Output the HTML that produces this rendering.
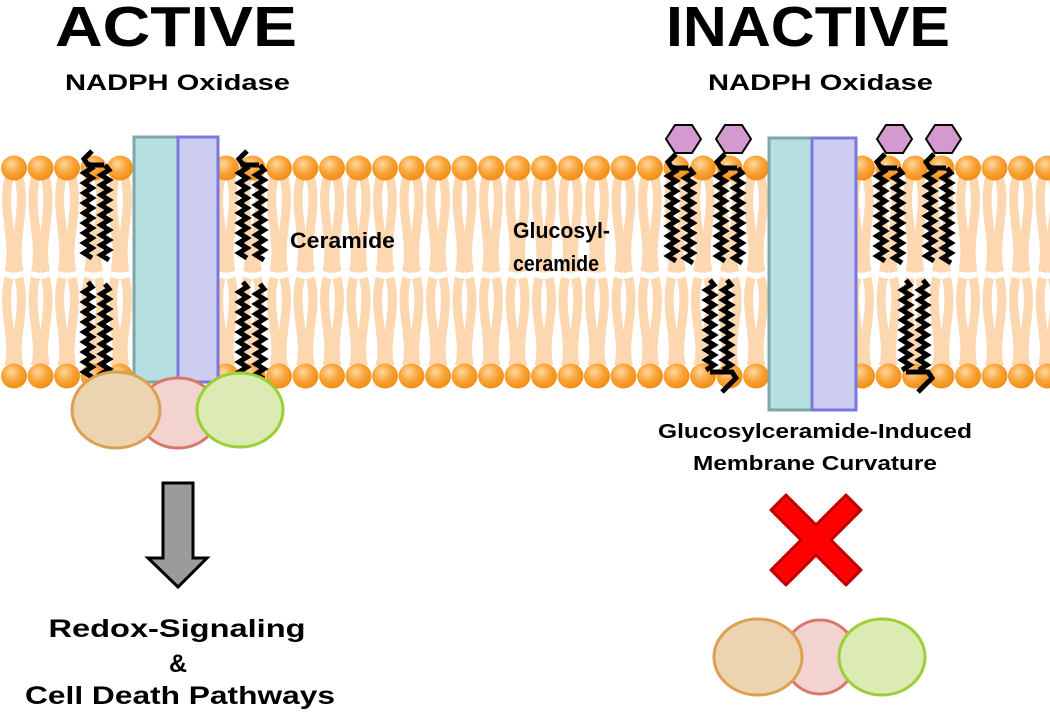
<!DOCTYPE html>
<html><head><meta charset="utf-8"><style>
html,body{margin:0;padding:0;background:#fff}
svg{display:block}
text{font-family:"Liberation Sans",Arial,sans-serif;font-weight:bold;fill:#000}
</style></head><body>
<svg id="s" width="1050" height="721" viewBox="0 0 1050 721" xmlns="http://www.w3.org/2000/svg">
<defs>
<radialGradient id="hg" cx="0.4" cy="0.35" r="0.7">
<stop offset="0" stop-color="#ffd9a0"/><stop offset="0.5" stop-color="#f9a43a"/><stop offset="1" stop-color="#f08a10"/>
</radialGradient>
</defs>
<g id="tails" fill="none" stroke="#fcd7b0" stroke-width="9"></g>
<g id="heads"></g>
<g id="lip" fill="none" stroke="#000" stroke-width="5" stroke-linejoin="miter"></g>

<rect x="134" y="137" width="44" height="245" fill="#b5dfe0" stroke="#7fa6a8" stroke-width="3"/>
<rect x="178" y="137" width="40" height="245" fill="#cdcdf2" stroke="#7a78dc" stroke-width="3"/>
<ellipse cx="178" cy="413" rx="40" ry="35" fill="#f3d3d0" stroke="#d9776c" stroke-width="3"/>
<ellipse cx="116" cy="410" rx="44" ry="38" fill="#edd4b0" stroke="#dba052" stroke-width="3"/>
<ellipse cx="240" cy="410" rx="43" ry="37" fill="#dceab3" stroke="#9ccf35" stroke-width="3"/>

<rect x="769" y="138" width="43" height="272" fill="#b5dfe0" stroke="#7fa6a8" stroke-width="3"/>
<rect x="812" y="138" width="44" height="272" fill="#cdcdf2" stroke="#7a78dc" stroke-width="3"/>

<g fill="#d49ad0" stroke="#000" stroke-width="2">
<polygon points="666,139 675,125 692,125 701,139 692,153 675,153"/>
<polygon points="716,139 725,125 742,125 751,139 742,153 725,153"/>
<polygon points="877,139 886,125 903,125 912,139 903,153 886,153"/>
<polygon points="926,139 935,125 952,125 961,139 952,153 935,153"/>
</g>

<text x="55" y="46" font-size="57" textLength="242" lengthAdjust="spacingAndGlyphs">ACTIVE</text>
<text x="65" y="90" font-size="22" textLength="225" lengthAdjust="spacingAndGlyphs">NADPH Oxidase</text>
<text x="666" y="46" font-size="57" textLength="284" lengthAdjust="spacingAndGlyphs">INACTIVE</text>
<text x="708" y="90" font-size="22" textLength="225" lengthAdjust="spacingAndGlyphs">NADPH Oxidase</text>
<text x="290" y="248" font-size="22" textLength="105" lengthAdjust="spacingAndGlyphs">Ceramide</text>
<text x="513" y="238" font-size="22" textLength="97" lengthAdjust="spacingAndGlyphs">Glucosyl-</text>
<text x="513" y="271" font-size="22" textLength="86" lengthAdjust="spacingAndGlyphs">ceramide</text>
<text x="815" y="438" font-size="20" text-anchor="middle" textLength="314" lengthAdjust="spacingAndGlyphs">Glucosylceramide-Induced</text>
<text x="815" y="470" font-size="20" text-anchor="middle" textLength="244" lengthAdjust="spacingAndGlyphs">Membrane Curvature</text>

<path d="M163,483 H193 V558 H207 L178,587 L148,558 H163 Z" fill="#9b9b9b" stroke="#000" stroke-width="3" stroke-linejoin="miter"/>
<text x="177" y="637" font-size="25" text-anchor="middle" textLength="257" lengthAdjust="spacingAndGlyphs">Redox-Signaling</text>
<text x="178" y="672" font-size="25" text-anchor="middle">&amp;</text>
<text x="180" y="704" font-size="25" text-anchor="middle" textLength="310" lengthAdjust="spacingAndGlyphs">Cell Death Pathways</text>

<path d="M0,-15 L30,-45 L45,-30 L15,0 L45,30 L30,45 L0,15 L-30,45 L-45,30 L-15,0 L-45,-30 L-30,-45 Z" transform="translate(816,540)" fill="#ff0000" stroke="#c00000" stroke-width="3" stroke-linejoin="round"/>

<ellipse cx="820" cy="657" rx="36" ry="37" fill="#f3d3d0" stroke="#d9776c" stroke-width="3"/>
<ellipse cx="758" cy="657" rx="44" ry="38" fill="#edd4b0" stroke="#dba052" stroke-width="3"/>
<ellipse cx="882" cy="657" rx="43" ry="38" fill="#dceab3" stroke="#9ccf35" stroke-width="3"/>
</svg>
<script>
(function(){
var NS="http://www.w3.org/2000/svg";
function el(p,t,a){var e=document.createElementNS(NS,t);for(var k in a)e.setAttribute(k,a[k]);p.appendChild(e);return e;}
var H=document.getElementById('heads'),T=document.getElementById('tails'),L=document.getElementById('lip');
var skip=function(x){return (x>128&&x<222)||(x>764&&x<860);};
for(var x=14;x<1060;x+=26.5){
  if(skip(x))continue;
  var d="M"+(x-5)+",178 C"+(x-13)+",210 "+(x+2)+",240 "+(x-5)+",272 M"+(x+5)+",178 C"+(x+13)+",210 "+(x-2)+",240 "+(x+5)+",272";
  d+=" M"+(x-5)+",278 C"+(x-13)+",310 "+(x+2)+",340 "+(x-5)+",366 M"+(x+5)+",278 C"+(x+13)+",310 "+(x-2)+",340 "+(x+5)+",366";
  el(T,'path',{d:d});
  el(H,'ellipse',{cx:x,cy:168,rx:13,ry:12.5,fill:'url(#hg)'});
  el(H,'ellipse',{cx:x,cy:376,rx:13,ry:12.5,fill:'url(#hg)'});
}
function zz(x,y1,y2){var d="M"+x+","+y1,s=1;for(var y=y1+5;y<=y2;y+=5){d+=" L"+(x+s*4)+","+y;s=-s;}return d;}
function cerTop(x,y){
  el(L,'path',{d:"M"+(x+4)+","+(y-12)+" L"+(x-4)+","+(y-4)+" L"+(x)+","+(y+2)+" L"+(x+16)+","+(y+2)});
  el(L,'path',{d:zz(x,y,y+95)});
  el(L,'path',{d:zz(x+17,y+2,y+97)});
}
function cerBot(x,y){
  el(L,'path',{d:zz(x,y,y+95)});
  el(L,'path',{d:zz(x+17,y+2,y+97)});
}
function cerBotHook(x,y){
  el(L,'path',{d:zz(x,y,y+92)});
  el(L,'path',{d:zz(x+17,y,y+92)});
  el(L,'path',{d:"M"+x+","+(y+92)+" L"+(x+22)+","+(y+92)+" L"+(x+26)+","+(y+98)+" L"+(x+12)+","+(y+112)});
}
cerTop(88,163);cerBot(88,282);
cerTop(243,163);cerBot(243,282);
cerTop(672,166);cerTop(721,166);cerBotHook(710,280);
cerTop(881,166);cerTop(930,166);cerBotHook(906,280);
})();
</script>
</body></html>
